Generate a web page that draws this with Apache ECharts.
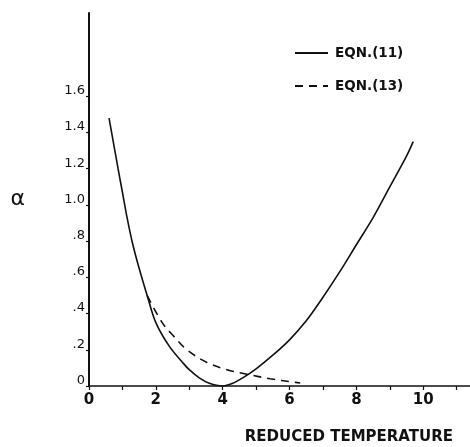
<!DOCTYPE html>
<html>
<head>
<meta charset="utf-8">
<script src="https://cdn.jsdelivr.net/npm/echarts@6/dist/echarts.min.js"></script>
<style>
  html, body { margin: 0; padding: 0; background: #fff; }
  #chart { width: 470px; height: 447px; }
</style>
</head>
<body>
<div id="chart"></div>
<script>
// EQN.(11) - solid curve
const eqn11X = [0.6, 0.87, 1.0, 1.15, 1.3, 1.5, 1.74, 2.0, 2.4, 2.8, 3.0, 3.3, 3.6, 4.0, 4.3, 4.6, 5.0, 5.5, 6.0, 6.5, 7.0, 7.5, 8.0, 8.5, 9.0, 9.5, 9.7];
const eqn11Y = [1.48, 1.2, 1.07, 0.92, 0.79, 0.65, 0.5, 0.35, 0.22, 0.13, 0.09, 0.045, 0.015, 0, 0.015, 0.045, 0.095, 0.17, 0.255, 0.36, 0.49, 0.63, 0.78, 0.93, 1.1, 1.27, 1.35];

// EQN.(13) - dashed curve
const eqn13X = [1.74, 2.19, 2.51, 2.93, 3.53, 4.13, 4.73, 5.42, 6.1, 6.32];
const eqn13Y = [0.5, 0.35, 0.28, 0.2, 0.13, 0.09, 0.065, 0.04, 0.022, 0.017];

const xTicks = [0, 1, 2, 3, 4, 5, 6, 7, 8, 9, 10, 11];
const xLabels = [0, 2, 4, 6, 8, 10];
const yTicks = [0, 0.2, 0.4, 0.6, 0.8, 1.0, 1.2, 1.4, 1.6];

const font = "DejaVu Sans";

const chart = echarts.init(document.getElementById("chart"));
chart.setOption({
  animation: false,
  backgroundColor: "#fff",
  grid: {
    left: 89,
    right: 0,
    top: 13,
    bottom: 61,
  },
  legend: {
    orient: "vertical",
    left: 289,
    top: 41,
    itemWidth: 33,
    itemHeight: 14,
    itemGap: 19,
    itemStyle: { opacity: 0 },
    textStyle: {
      fontFamily: font,
      fontWeight: "bold",
      fontSize: 13.5,
      color: "#111",
      padding: [0, 0, 0, 2],
    },
    data: ["EQN.(11)", "EQN.(13)"],
  },
  xAxis: {
    type: "value",
    min: 0,
    max: 11.4,
    splitLine: { show: false },
    axisLine: { lineStyle: { color: "#111", width: 1.5 } },
    axisTick: {
      customValues: xTicks,
      length: 4,
      lineStyle: { color: "#111", width: 1.2 },
    },
    axisLabel: {
      customValues: xLabels,
      fontFamily: font,
      fontWeight: "bold",
      fontSize: 15,
      color: "#111",
      margin: 7,
    },
    name: "REDUCED TEMPERATURE",
    nameLocation: "end",
    nameGap: 0,
    nameTextStyle: {
      fontFamily: font,
      fontWeight: "bold",
      fontSize: 15,
      color: "#111",
      align: "right",
      verticalAlign: "top",
      padding: [44, 17, 0, 0],
    },
  },
  yAxis: {
    type: "value",
    min: 0,
    max: 2.06,
    splitLine: { show: false },
    axisLine: { lineStyle: { color: "#111", width: 2 } },
    axisTick: {
      customValues: yTicks,
      length: 3,
      lineStyle: { color: "#111", width: 1.2 },
    },
    axisLabel: {
      customValues: yTicks,
      fontFamily: font,
      fontSize: 13,
      color: "#111",
      margin: 4,
      verticalAlign: "bottom",
      lineHeight: 13,
      padding: [0, 0, -1, 0],
      formatter: (v) => {
        if (v === 0) return "0";
        if (v < 1) return v.toFixed(1).replace("0.", ".");
        return v.toFixed(1);
      },
    },
    name: "\u03b1",
    nameLocation: "middle",
    nameRotate: 0,
    nameGap: 64,
    nameTextStyle: {
      fontFamily: font,
      fontSize: 22,
      color: "#111",
    },
  },
  series: [
    {
      name: "EQN.(11)",
      type: "line",
      smooth: 0.35,
      symbol: "none",
      data: eqn11X.map((x, i) => [x, eqn11Y[i]]),
      lineStyle: { color: "#111", width: 1.6, type: "solid" },
      itemStyle: { color: "#111" },
    },
    {
      name: "EQN.(13)",
      type: "line",
      smooth: 0.35,
      symbol: "none",
      data: eqn13X.map((x, i) => [x, eqn13Y[i]]),
      lineStyle: { color: "#111", width: 1.6, type: [8, 6] },
      itemStyle: { color: "#111" },
    },
  ],
});
</script>
</body>
</html>
